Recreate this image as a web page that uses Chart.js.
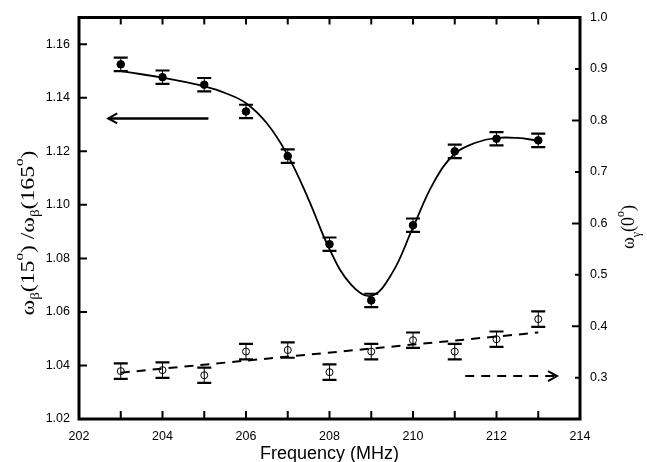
<!DOCTYPE html>
<html>
<head>
<meta charset="utf-8">
<script src="https://cdn.jsdelivr.net/npm/chart.js@4.4.1/dist/chart.umd.min.js"></script>
<style>
  html, body { margin: 0; padding: 0; background: #fff; }
  #wrap { width: 647px; height: 462px; }
</style>
</head>
<body>
<div id="wrap"><canvas id="chart" width="647" height="462"></canvas></div>
<script>
// Measured points
const freq = [203, 204, 205, 206, 207, 208, 209, 210, 211, 212, 213];
const ratio = [1.1525, 1.1477, 1.1449, 1.1349, 1.1182, 1.0853, 1.0643, 1.0924, 1.1200, 1.1247, 1.1241];
const ratioErr = [0.0025, 0.0025, 0.0025, 0.0025, 0.0025, 0.0025, 0.0025, 0.0025, 0.0025, 0.0025, 0.0025];
const gamma = [0.313, 0.315, 0.305, 0.351, 0.354, 0.311, 0.351, 0.373, 0.351, 0.375, 0.414];
const gammaErr = [0.015, 0.015, 0.015, 0.015, 0.015, 0.015, 0.015, 0.015, 0.015, 0.015, 0.015];

// Fit curve
const fitFreq = [203, 203.5, 204, 204.5, 205, 205.5, 206, 206.5, 207, 207.5, 208, 208.5, 209, 209.5, 210, 210.5, 211, 211.5, 212, 212.5, 213];
const fitVal = [1.150, 1.1488, 1.1475, 1.1460, 1.1443, 1.1418, 1.1380, 1.1305, 1.1185, 1.1020, 1.0835, 1.0705, 1.0660, 1.0745, 1.0916, 1.1085, 1.1191, 1.1232, 1.1250, 1.1250, 1.1240];

// Linear trend of the open points
const trendFreq = [203, 213];
const trendVal = [0.310, 0.388];

// Arrows (tail -> head)
const leftArrowFreq = [205.1, 202.7];
const leftArrowVal = [1.1323, 1.1323];
const rightArrowFreq = [211.25, 213.45];
const rightArrowVal = [0.3035, 0.3035];

// Tick labels
const xTicks = [202, 203, 204, 205, 206, 207, 208, 209, 210, 211, 212, 213, 214];
const yTicks = [1.02, 1.04, 1.06, 1.08, 1.10, 1.12, 1.14, 1.16];
const y2Ticks = [0.3, 0.4, 0.5, 0.6, 0.7, 0.8, 0.9, 1.0];

const pts = (xs, ys) => xs.map((x, i) => ({ x: x, y: ys[i] }));
const sans = '"Liberation Sans", Arial, sans-serif';
const serif = '"Liberation Serif", "Times New Roman", serif';

// error bars, frame, inward ticks, arrowheads and titles
const decor = {
  id: 'decor',
  afterDatasetsDraw(chart) {
    const ctx = chart.ctx;
    const xs = chart.scales.x, ys = chart.scales.y, y2 = chart.scales.y2;
    const area = chart.chartArea;
    ctx.save();
    ctx.strokeStyle = '#000';

    function errBars(vals, errs, scale) {
      freq.forEach((f, i) => {
        const px = xs.getPixelForValue(f);
        const top = scale.getPixelForValue(vals[i] + errs[i]);
        const bot = scale.getPixelForValue(vals[i] - errs[i]);
        ctx.lineWidth = 1;
        ctx.beginPath(); ctx.moveTo(px, top); ctx.lineTo(px, bot); ctx.stroke();
        ctx.lineWidth = 2.2;
        ctx.beginPath();
        ctx.moveTo(px - 7, top); ctx.lineTo(px + 7, top);
        ctx.moveTo(px - 7, bot); ctx.lineTo(px + 7, bot);
        ctx.stroke();
      });
    }
    errBars(ratio, ratioErr, ys);
    errBars(gamma, gammaErr, y2);

    // arrowheads
    function head(fx, fy, scale, dir) {
      const px = xs.getPixelForValue(fx), py = scale.getPixelForValue(fy);
      ctx.lineWidth = 2;
      ctx.setLineDash([]);
      ctx.beginPath();
      ctx.moveTo(px - dir * 9, py - 5);
      ctx.lineTo(px, py);
      ctx.lineTo(px - dir * 9, py + 5);
      ctx.stroke();
    }
    head(leftArrowFreq[1], leftArrowVal[1], ys, -1);
    head(rightArrowFreq[1], rightArrowVal[1], y2, 1);

    // inward ticks
    ctx.lineWidth = 2;
    ctx.beginPath();
    xTicks.forEach(v => {
      if (v === 202 || v === 214) return;
      const px = xs.getPixelForValue(v);
      ctx.moveTo(px, area.bottom); ctx.lineTo(px, area.bottom - 8);
      ctx.moveTo(px, area.top); ctx.lineTo(px, area.top + 7);
    });
    yTicks.forEach(v => {
      if (v === 1.02) return;
      const py = ys.getPixelForValue(v);
      ctx.moveTo(area.left, py); ctx.lineTo(area.left + 8, py);
    });
    y2Ticks.forEach((v, i) => {
      if (v === 1.0) return;
      const py = y2.getPixelForValue(v);
      const len = (i % 2 === 1) ? 8 : 5;
      ctx.moveTo(area.right, py); ctx.lineTo(area.right - len, py);
    });
    ctx.stroke();

    // frame
    ctx.lineWidth = 3;
    ctx.strokeRect(area.left, area.top, area.right - area.left, area.bottom - area.top);

    // x title
    ctx.fillStyle = '#000';
    ctx.font = '18px ' + sans;
    ctx.textAlign = 'center';
    ctx.textBaseline = 'middle';
    ctx.fillText('Frequency (MHz)', (area.left + area.right) / 2, 454);

    // rich rotated titles
    function rich(parts, cx, cy, size, target) {
      ctx.save();
      ctx.translate(cx, cy);
      ctx.rotate(-Math.PI / 2);
      ctx.textAlign = 'left';
      ctx.textBaseline = 'alphabetic';
      let w = 0;
      parts.forEach(p => {
        ctx.font = (p.sub || p.sup ? Math.round(size * 0.65) : size) + 'px ' + serif;
        p.w = ctx.measureText(p.t).width;
        w += p.w;
      });
      const k = target ? target / w : 1;
      ctx.scale(k, 1);
      let x = -w / 2;
      parts.forEach(p => {
        ctx.font = (p.sub || p.sup ? Math.round(size * 0.65) : size) + 'px ' + serif;
        const dy = p.sub ? size * 0.3 : (p.sup ? -size * 0.55 : 0);
        ctx.fillText(p.t, x, size * 0.35 + dy);
        x += p.w;
      });
      ctx.restore();
    }
    rich([
      { t: 'ω' }, { t: 'β', sub: true }, { t: '(15' }, { t: 'o', sup: true }, { t: ') /ω' },
      { t: 'β', sub: true }, { t: '(165' }, { t: 'o', sup: true }, { t: ')' }
    ], 27, 233, 19, 165);
    rich([
      { t: 'ω' }, { t: 'γ', sub: true }, { t: '(0' }, { t: 'o', sup: true }, { t: ')' }
    ], 628, 227, 18);

    ctx.restore();
  }
};

new Chart(document.getElementById('chart'), {
  type: 'line',
  data: {
    datasets: [
      {
        data: pts(fitFreq, fitVal), yAxisID: 'y',
        borderColor: '#000', borderWidth: 1.8, pointRadius: 0, tension: 0.4, fill: false
      },
      {
        data: pts(freq, ratio), yAxisID: 'y', showLine: false,
        pointRadius: 3.8, pointBackgroundColor: '#000', pointBorderColor: '#000', pointBorderWidth: 1
      },
      {
        data: pts(trendFreq, trendVal), yAxisID: 'y2',
        borderColor: '#000', borderWidth: 2, borderDash: [9, 7], pointRadius: 0, fill: false
      },
      {
        data: pts(freq, gamma), yAxisID: 'y2', showLine: false,
        pointRadius: 3.5, pointBackgroundColor: 'rgba(0,0,0,0)', pointBorderColor: '#000', pointBorderWidth: 1
      },
      {
        data: pts(leftArrowFreq, leftArrowVal), yAxisID: 'y',
        borderColor: '#000', borderWidth: 2.5, pointRadius: 0, fill: false
      },
      {
        data: pts(rightArrowFreq, rightArrowVal), yAxisID: 'y2',
        borderColor: '#000', borderWidth: 2, borderDash: [9, 7], pointRadius: 0, fill: false
      }
    ]
  },
  options: {
    responsive: false,
    animation: false,
    layout: { padding: { top: 17, left: 0, right: 0, bottom: 0 } },
    plugins: { legend: { display: false }, tooltip: { enabled: false } },
    scales: {
      x: {
        type: 'linear', min: 202, max: 214,
        grid: { display: false, drawTicks: false }, border: { display: false },
        afterBuildTicks: s => { s.ticks = xTicks.map(v => ({ value: v })); },
        afterFit: s => { s.height = 43; },
        ticks: {
          autoSkip: false, maxRotation: 0, padding: 10, color: '#000',
          font: { family: sans, size: 12.5 },
          callback: v => (v % 2 === 0 ? String(v) : '')
        }
      },
      y: {
        type: 'linear', position: 'left', min: 1.02, max: 1.17,
        grid: { display: false, drawTicks: false }, border: { display: false },
        afterBuildTicks: s => { s.ticks = yTicks.map(v => ({ value: v })); },
        afterFit: s => { s.width = 79; },
        ticks: {
          padding: 9, color: '#000', font: { family: sans, size: 12.5 },
          callback: v => v.toFixed(2)
        }
      },
      y2: {
        type: 'linear', position: 'right', min: 0.22, max: 1.0,
        grid: { display: false, drawTicks: false }, border: { display: false },
        afterBuildTicks: s => { s.ticks = y2Ticks.map(v => ({ value: v })); },
        afterFit: s => { s.width = 67; },
        ticks: {
          padding: 10, color: '#000', font: { family: sans, size: 12.5 },
          callback: v => v.toFixed(1)
        }
      }
    }
  },
  plugins: [decor]
});
</script>
</body>
</html>
